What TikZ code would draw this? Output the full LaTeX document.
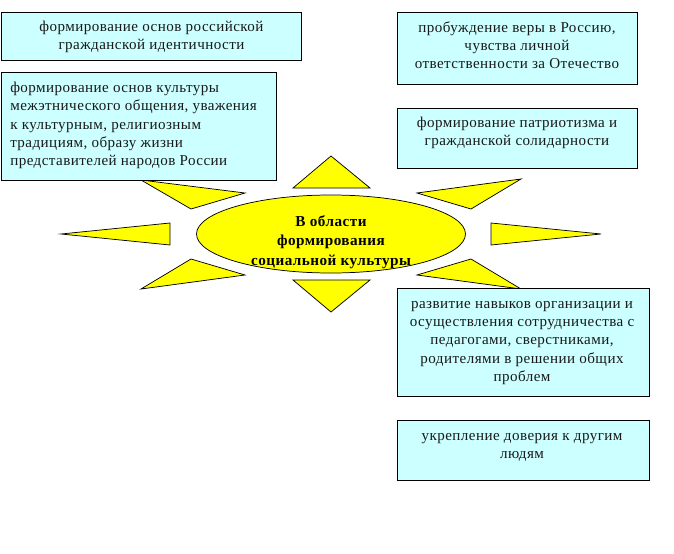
\documentclass[tikz,border=0pt]{standalone}
\usepackage{fontspec}
\setmainfont[LetterSpace=3]{Liberation Serif}
\definecolor{boxcyan}{HTML}{CCFFFF}
\definecolor{sunyellow}{HTML}{FFFF00}
\tikzset{
  infobox/.style={draw=black,fill=boxcyan,line width=0.65pt},
  ray/.style={draw=black,fill=sunyellow,line width=0.55pt,line join=miter},
  infotext/.style={font=\fontsize{11.3}{13.6}\selectfont,align=center,inner sep=0pt,text=black!90},
  lefttext/.style={infotext,align=left,anchor=west},
  suntext/.style={font=\fontsize{11.4}{14.4}\selectfont\bfseries,align=center,inner sep=0pt,text=black}
}
\begin{document}
\begin{tikzpicture}[x=0.75pt,y=-0.75pt]
\useasboundingbox (0,0) rectangle (674,553);
% sun rays
\draw[ray] (293,188) -- (370,188) -- (331,156) -- cycle;
\draw[ray] (293,280) -- (370,280) -- (331,312) -- cycle;
\draw[ray] (141,180) -- (245,193) -- (191,209) -- cycle;
\draw[ray] (61,234) -- (170,223) -- (170,245) -- cycle;
\draw[ray] (141,289) -- (245,275) -- (191,259) -- cycle;
\draw[ray] (521,179) -- (417,193) -- (471,209) -- cycle;
\draw[ray] (601,234) -- (491,223) -- (491,245) -- cycle;
\draw[ray] (521,289) -- (417,275) -- (471,259) -- cycle;
\draw[ray] (331,234) ellipse [x radius=134.5,y radius=39];
\node[suntext] (sun) at (331,242) {В области\\формирования\\социальной культуры};
% boxes
\draw[infobox] (1,12) rectangle (301,60);
\draw[infobox] (1,72) rectangle (276,180);
\draw[infobox] (397,12) rectangle (637,84);
\draw[infobox] (397,108) rectangle (637,168);
\draw[infobox] (397,288) rectangle (649,396);
\draw[infobox] (397,420) rectangle (649,480);
% texts
\node[infotext] (a) at (151.5,37) {формирование основ российской\\гражданской идентичности};
\node[lefttext] (b) at (10,125.5) {формирование основ культуры\\межэтнического общения, уважения\\к культурным, религиозным\\традициям, образу жизни\\представителей народов России};
\node[infotext] (c) at (517,45) {пробуждение веры в Россию,\\чувства личной\\ответственности за Отечество};
\node[infotext] (d) at (517,133) {формирование патриотизма и\\гражданской солидарности};
\node[infotext] (e) at (522,343) {развитие навыков организации и\\осуществления сотрудничества с\\педагогами, сверстниками,\\родителями в решении общих\\проблем};
\node[infotext] (f) at (522,447) {укрепление доверия к другим\\людям};
\end{tikzpicture}
\end{document}
